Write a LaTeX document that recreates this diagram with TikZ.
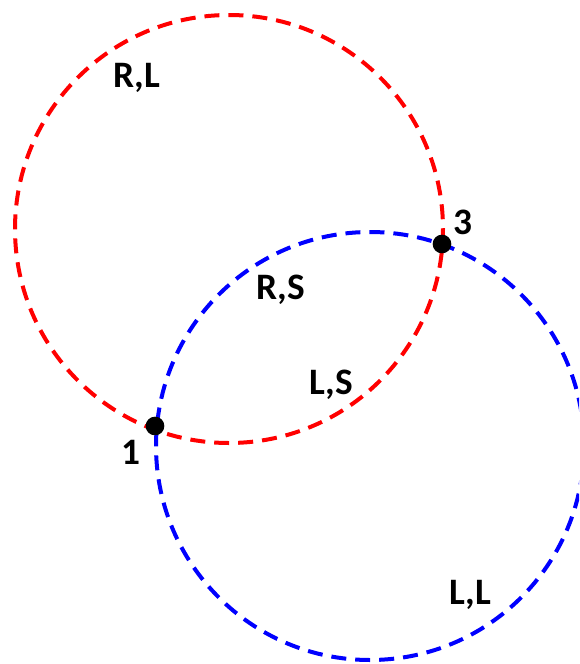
\documentclass[tikz,border=0pt]{standalone}
\usepackage{fontspec}
\setmainfont{Carlito}
\usepackage{xcolor}
\usetikzlibrary{positioning}
\definecolor{loopRed}{HTML}{FF0000}
\definecolor{loopBlue}{HTML}{0000FF}
\tikzset{
  looppath/.style={line width=3pt,dash pattern=on 11.25pt off 6.75pt},
  crossdot/.style={circle,fill=black,inner sep=0pt,minimum size=14pt},
  regionlabel/.style={font=\fontsize{28}{32}\selectfont\bfseries,text=black,inner sep=0pt}
}
\begin{document}
\begin{tikzpicture}[x=0.75pt,y=-0.75pt]
    \clip (0,0) rectangle (579,664);
    % the two loops
    \draw[looppath,draw=loopRed] (229,229) circle (214);
    \draw[looppath,draw=loopBlue] (370,446) circle (214);
    % crossing points
    \node[crossdot] (p1) at (155,426) {};
    \node[crossdot] (p3) at (442,244) {};
    \node[regionlabel] (l1) at (131,452) {1};
    \node[regionlabel] (l3) at (463,222) {3};
    % regions
    \node[regionlabel] (rl) at (137,78) {R,L};
    \node[regionlabel] (rs) at (281,290) {R,S};
    \node[regionlabel] (ls) at (331,385) {L,S};
    \node[regionlabel] (ll) at (470,595) {L,L};
  \end{tikzpicture}
\end{document}
